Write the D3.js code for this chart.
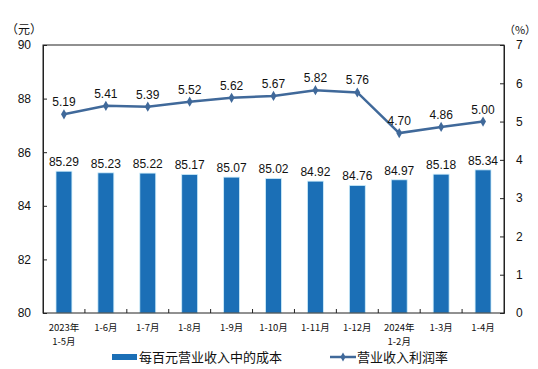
<!DOCTYPE html>
<html><head><meta charset="utf-8">
<script src="https://cdn.jsdelivr.net/npm/d3@7"></script>
<style>body{margin:0;background:#fff}svg{display:block}</style>
</head><body>
<svg id="c" width="538" height="369"></svg>
<script>
const categories = [["2023年","1-5月"],["1-6月"],["1-7月"],["1-8月"],["1-9月"],["1-10月"],["1-11月"],["1-12月"],["2024年","1-2月"],["1-3月"],["1-4月"]];
const costValues = [85.29,85.23,85.22,85.17,85.07,85.02,84.92,84.76,84.97,85.18,85.34];
const marginValues = [5.19,5.41,5.39,5.52,5.62,5.67,5.82,5.76,4.70,4.86,5.00];
const leftTicks = [80,82,84,86,88,90];
const rightTicks = [0,1,2,3,4,5,6,7];
const seriesNames = ["每百元营业收入中的成本","营业收入利润率"];

const svg = d3.select("#c");
const L=43,R=504,T=45,B=313;
const font = "'Liberation Sans', Arial, sans-serif";
const cjk = "'Noto Sans CJK SC', sans-serif";
const barColor = "#1b6fb6", lineColor = "#40699a";

const x = d3.scaleBand().domain(d3.range(categories.length)).range([L,R]).paddingInner(0.62).paddingOuter(0.31);
const yL = d3.scaleLinear().domain([80,90]).range([B,T]);
const yR = d3.scaleLinear().domain([0,7]).range([B,T]);

// bars
svg.append("g").selectAll("rect").data(costValues).join("rect")
  .attr("x",(d,i)=>x(i)).attr("width",x.bandwidth())
  .attr("y",d=>yL(d)).attr("height",d=>B-yL(d))
  .attr("fill",barColor).attr("stroke","#cfeefb").attr("stroke-width",0.8);
svg.append("g").selectAll("text").data(costValues).join("text")
  .attr("x",(d,i)=>x(i)+x.bandwidth()/2).attr("y",d=>yL(d)-5)
  .attr("text-anchor","middle").attr("font-family",font).attr("font-size",12).attr("fill","#111")
  .text(d=>d.toFixed(2));

// frame
svg.append("rect").attr("x",L).attr("y",T).attr("width",R-L).attr("height",B-T)
  .attr("fill","none").attr("stroke","#222").attr("stroke-width",1);

// axes
const gL = svg.append("g").attr("transform",`translate(${L},0)`)
  .call(d3.axisLeft(yL).tickValues(leftTicks).tickSize(-4).tickPadding(12).tickFormat(d3.format("d")));
const gR = svg.append("g").attr("transform",`translate(${R},0)`)
  .call(d3.axisRight(yR).tickValues(rightTicks).tickSize(-4).tickPadding(12).tickFormat(d3.format("d")));
[gL,gR].forEach(g=>{
  g.select(".domain").attr("stroke","#222");
  g.selectAll(".tick line").attr("stroke","#222");
  g.selectAll("text").attr("font-family",font).attr("font-size",12).attr("fill","#111");
});
// category ticks between bands
svg.append("g").selectAll("line").data(d3.range(1,categories.length)).join("line")
  .attr("x1",i=>L+i*(R-L)/categories.length).attr("x2",i=>L+i*(R-L)/categories.length)
  .attr("y1",B).attr("y2",B-4).attr("stroke","#222");
// category labels (one text per line)
const lines = [];
categories.forEach((d,i)=>d.forEach((s,k)=>lines.push({i,k,s})));
svg.append("g").selectAll("text").data(lines).join("text")
  .attr("x",d=>x(d.i)+x.bandwidth()/2).attr("y",d=>331+d.k*14)
  .attr("text-anchor","middle").attr("font-family",cjk).attr("font-size",9.5).attr("fill","#111")
  .text(d=>d.s);

// unit labels
svg.append("text").attr("x",24).attr("y",34).attr("text-anchor","middle").attr("font-family",cjk).attr("font-size",12).attr("fill","#111").text("（元）");
svg.append("text").attr("x",520).attr("y",34).attr("text-anchor","middle").attr("font-family",cjk).attr("font-size",11).attr("fill","#111").text("（%）");

// line
const cx = i=>x(i)+x.bandwidth()/2;
svg.append("path").datum(marginValues)
  .attr("d",d3.line().x((d,i)=>cx(i)).y(d=>yR(d)))
  .attr("fill","none").attr("stroke",lineColor).attr("stroke-width",2.5);
svg.append("g").selectAll("path").data(marginValues).join("path")
  .attr("transform",(d,i)=>`translate(${cx(i)},${yR(d)})`)
  .attr("d",d3.symbol(d3.symbolDiamond,30)).attr("fill",lineColor);
svg.append("g").selectAll("text").data(marginValues).join("text")
  .attr("x",(d,i)=>cx(i)).attr("y",d=>yR(d)-8)
  .attr("text-anchor","middle").attr("font-family",font).attr("font-size",12).attr("fill","#111")
  .text(d=>d.toFixed(2));

// legend
svg.append("rect").attr("x",112).attr("y",354).attr("width",25).attr("height",6).attr("fill",barColor);
svg.append("text").attr("x",139).attr("y",362).attr("font-family",cjk).attr("font-size",13).attr("fill","#111").text(seriesNames[0]);
svg.append("line").attr("x1",330).attr("x2",356).attr("y1",357).attr("y2",357).attr("stroke",lineColor).attr("stroke-width",2.5);
svg.append("path").attr("transform","translate(343,357)").attr("d",d3.symbol(d3.symbolDiamond,24)).attr("fill",lineColor);
svg.append("text").attr("x",357).attr("y",362).attr("font-family",cjk).attr("font-size",13).attr("fill","#111").text(seriesNames[1]);
</script>
</body></html>
